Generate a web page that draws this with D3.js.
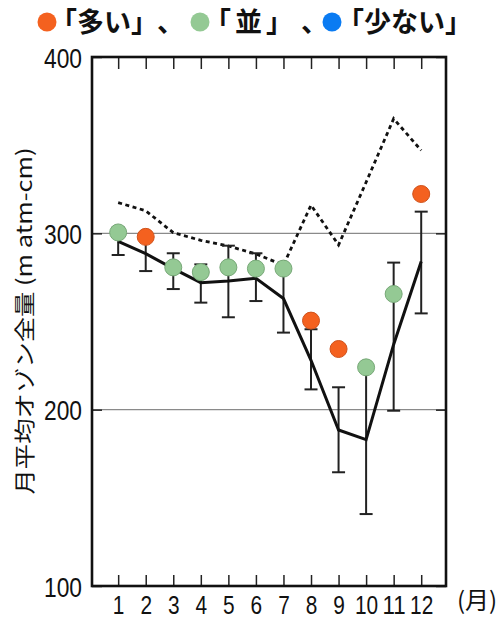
<!doctype html>
<html>
<head>
<meta charset="utf-8">
<style>
  body { margin: 0; background: #fff; }
  text { font-family: "Noto Sans CJK JP", "Noto Sans", sans-serif; }
  .num { font-family: "Liberation Sans Narrow", "Liberation Sans", sans-serif; }
</style>
<script src="https://d3js.org/d3.v7.min.js"></script>
</head>
<body>
<svg id="chart" width="499" height="619"></svg>
<script>
// months and values
var months = [1, 2, 3, 4, 5, 6, 7, 8, 9, 10, 11, 12];
var meanVal = [295.5, 288.5, 280, 272, 273, 274.5, 263, 228, 188.5, 183, 237, 284];
var lowVal  = [287.7, 278.6, 268.4, 260.7, 252.4, 261.6, 243.7, 211.5, 164.5, 140.8, 199.4, 254.6];
var highVal = [303.3, 298.4, 288.7, 282.4, 293, 288.7, 282.3, 245.6, 212.7, 225, 283.4, 312.3];
var maxVal  = [317.4, 312.8, 300.4, 296, 292.8, 288.3, 282, 316, 293.4, 329, 365, 347];
var thisYear = [300.5, 298, 280.7, 278, 280.7, 280, 280, 250.5, 234.4, 224, 265.6, 322.3];
var levelKey = ["並", "多", "並", "並", "並", "並", "並", "多", "多", "並", "並", "多"];
var yTicks = [100, 200, 300, 400];
var gridVals = [200, 300];

var legendItems = [
  {key: "多", label: "「多い」", cx: 47, tx: 50, ls: 0, comma: 157},
  {key: "並", label: "「並」", cx: 200, tx: 204, ls: 4, comma: 301},
  {key: "少", label: "「少ない」", cx: 332, tx: 337, ls: 0, comma: null}
];
var fillCol = {"多": "#f4611f", "並": "#94c994", "少": "#0a7bf2"};
var strokeCol = {"多": "#d0521b", "並": "#77a877", "少": "#0a6ad0"};

var svg = d3.select("#chart");
var pLeft = 92, pRight = 446, pTop = 57, pBottom = 586;

var x = d3.scaleLinear().domain([0.05, 12.9]).range([pLeft, pRight]);
var y = d3.scaleLinear().domain([100, 400]).range([pBottom, pTop]);

// gridlines
svg.append("g").selectAll("line")
  .data(gridVals).enter().append("line")
  .attr("x1", pLeft).attr("x2", pRight)
  .attr("y1", function(d) { return y(d); })
  .attr("y2", function(d) { return y(d); })
  .attr("stroke", "#8a8a8a").attr("stroke-width", 1.2);

// axes: ticks inside the frame
function styleAxis(g) {
  g.select(".domain").remove();
  g.selectAll(".tick line").attr("stroke", "#222").attr("stroke-width", 1.5);
}
svg.append("g").attr("transform", "translate(0," + pBottom + ")")
  .call(d3.axisBottom(x).tickValues(months).tickSizeInner(-11).tickSizeOuter(0).tickPadding(14))
  .call(styleAxis)
  .call(function(g) {
    g.selectAll(".tick text")
      .attr("class", "num")
      .attr("font-size", 26).attr("fill", "#111")
      .attr("y", 27.5).attr("dy", 0)
      .attr("textLength", function(d) { return String(d).length * 11.6; })
      .attr("lengthAdjust", "spacingAndGlyphs");
  });
svg.append("g").attr("transform", "translate(0," + pTop + ")")
  .call(d3.axisTop(x).tickValues(months).tickSizeInner(-12).tickSizeOuter(0).tickFormat(""))
  .call(styleAxis);
svg.append("g").attr("transform", "translate(" + pLeft + ",0)")
  .call(d3.axisLeft(y).tickValues(yTicks).tickSizeInner(-10).tickSizeOuter(0).tickPadding(10))
  .call(styleAxis)
  .call(function(g) {
    g.selectAll(".tick text")
      .attr("class", "num")
      .attr("font-size", 28).attr("fill", "#111")
      .attr("x", -10).attr("dy", "0.36em")
      .attr("textLength", 38).attr("lengthAdjust", "spacingAndGlyphs");
  });
svg.append("g").attr("transform", "translate(" + pRight + ",0)")
  .call(d3.axisRight(y).tickValues(yTicks).tickSizeInner(-10).tickSizeOuter(0).tickFormat(""))
  .call(styleAxis);

// dotted line (max)
var line = d3.line()
  .x(function(d, i) { return x(months[i]); })
  .y(function(d) { return y(d); });
svg.append("path").datum(maxVal)
  .attr("d", line)
  .attr("fill", "none").attr("stroke", "#111")
  .attr("stroke-width", 2.8).attr("stroke-dasharray", "4,3.5");

// error bars
var bars = svg.append("g").attr("stroke", "#222").attr("stroke-width", 2);
months.forEach(function(m, i) {
  bars.append("line").attr("x1", x(m)).attr("x2", x(m))
    .attr("y1", y(lowVal[i])).attr("y2", y(highVal[i]));
  [lowVal[i], highVal[i]].forEach(function(v) {
    bars.append("line").attr("x1", x(m) - 6.5).attr("x2", x(m) + 6.5)
      .attr("y1", y(v)).attr("y2", y(v));
  });
});

// mean line
svg.append("path").datum(meanVal)
  .attr("d", line)
  .attr("fill", "none").attr("stroke", "#111").attr("stroke-width", 3);

// this year's values
svg.append("g").selectAll("circle")
  .data(thisYear).enter().append("circle")
  .attr("cx", function(d, i) { return x(months[i]); })
  .attr("cy", function(d) { return y(d); })
  .attr("r", 8.5)
  .attr("fill", function(d, i) { return fillCol[levelKey[i]]; })
  .attr("stroke", function(d, i) { return strokeCol[levelKey[i]]; })
  .attr("stroke-width", 1);

// frame
svg.append("rect")
  .attr("x", pLeft).attr("y", pTop)
  .attr("width", pRight - pLeft).attr("height", pBottom - pTop)
  .attr("fill", "none").attr("stroke", "#111").attr("stroke-width", 2.6);

// y label
svg.append("text")
  .attr("transform", "translate(23,321) rotate(-90)")
  .attr("text-anchor", "middle").attr("dominant-baseline", "central")
  .attr("font-size", 21).attr("fill", "#111")
  .attr("textLength", 347).attr("lengthAdjust", "spacingAndGlyphs")
  .text("月平均オゾン全量 (m atm-cm)");

// month unit
svg.append("text")
  .attr("x", 477).attr("y", 609)
  .attr("text-anchor", "middle")
  .attr("font-size", 24).attr("fill", "#111")
  .text("(月)");

// legend
var lg = svg.append("g");
lg.selectAll("circle").data(legendItems).enter().append("circle")
  .attr("cx", function(d) { return d.cx; }).attr("cy", 22).attr("r", 9.5)
  .attr("fill", function(d) { return fillCol[d.key]; });
lg.selectAll("text.lab").data(legendItems).enter().append("text")
  .attr("class", "lab")
  .attr("x", function(d) { return d.tx; }).attr("y", 32)
  .attr("font-size", 27).attr("font-weight", "bold").attr("fill", "#111")
  .attr("letter-spacing", function(d) { return d.ls; })
  .text(function(d) { return d.label; });
lg.selectAll("text.comma").data(legendItems.filter(function(d) { return d.comma; }))
  .enter().append("text")
  .attr("class", "comma")
  .attr("x", function(d) { return d.comma; }).attr("y", 32)
  .attr("font-size", 27).attr("font-weight", "bold").attr("fill", "#111")
  .text("、");
</script>
</body>
</html>
